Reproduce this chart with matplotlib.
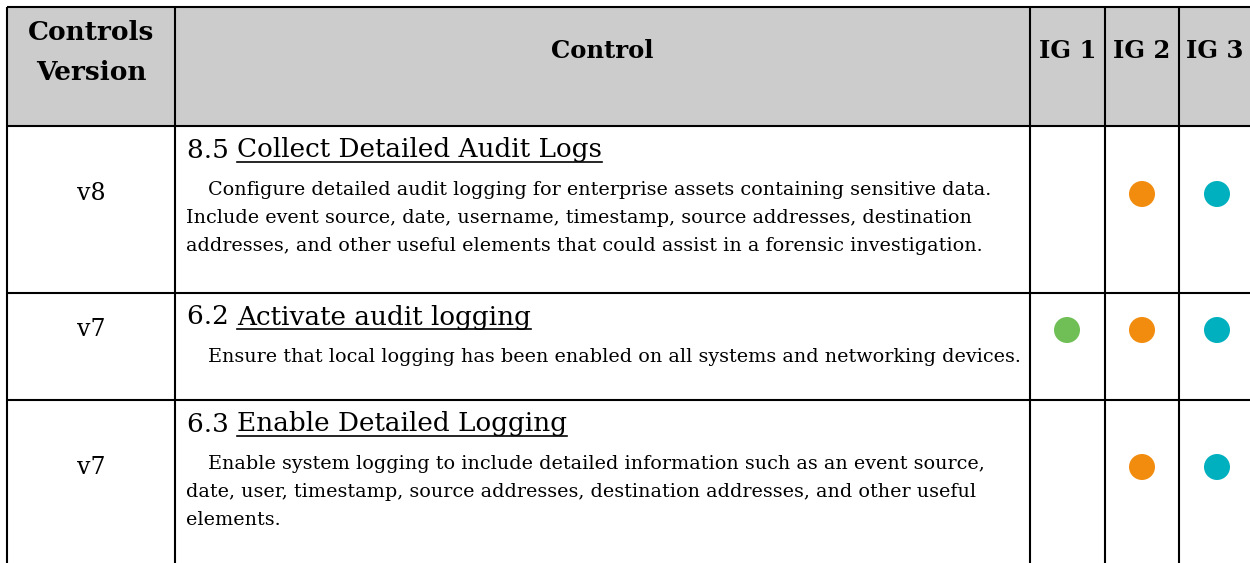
import matplotlib
matplotlib.use("Agg")
import matplotlib.pyplot as plt
from matplotlib.patches import Rectangle, Circle

# table content
headers = ["Controls\nVersion", "Control", "IG 1", "IG 2", "IG 3"]
versions = ["v8", "v7", "v7"]
control_ids = ["8.5", "6.2", "6.3"]
titles = ["Collect Detailed Audit Logs", "Activate audit logging", "Enable Detailed Logging"]
descriptions = [
    ["Configure detailed audit logging for enterprise assets containing sensitive data.",
     "Include event source, date, username, timestamp, source addresses, destination",
     "addresses, and other useful elements that could assist in a forensic investigation."],
    ["Ensure that local logging has been enabled on all systems and networking devices."],
    ["Enable system logging to include detailed information such as an event source,",
     "date, user, timestamp, source addresses, destination addresses, and other useful",
     "elements."],
]
ig1 = [False, True, False]
ig2 = [True, True, True]
ig3 = [True, True, True]

# layout (pixels)
W, H = 1250, 563
col_x = [7, 175, 1030, 1105, 1179, 1260]
row_y = [7, 126, 293, 400, 600]
IG_COLORS = ["#70bf56", "#f28c0f", "#00b0bf"]
FONT = "DejaVu Serif"
LW = 1.5

fig = plt.figure(figsize=(W / 100, H / 100), dpi=100)
ax = fig.add_axes([0, 0, 1, 1])
ax.set_xlim(0, W)
ax.set_ylim(H, 0)
ax.axis("off")

# header band
ax.add_patch(Rectangle((col_x[0], row_y[0]), col_x[-1] - col_x[0], row_y[1] - row_y[0],
                       facecolor="#cccccc", edgecolor="none", zorder=0))

# grid lines
for x in col_x[:-1]:
    ax.plot([x, x], [row_y[0], H + 5], color="black", lw=LW, solid_capstyle="butt")
for y in row_y[:-1]:
    ax.plot([col_x[0], W + 5], [y, y], color="black", lw=LW, solid_capstyle="butt")

# header text
for i, h in enumerate(headers):
    cx = (col_x[i] + col_x[i + 1]) / 2 if i < 4 else (col_x[4] + W) / 2
    ax.text(cx, 52 if i == 0 else 51, h, ha="center", va="center",
            fontsize=19 if i == 0 else 17.5,
            fontweight="bold", family=FONT, linespacing=1.75)

fig.canvas.draw()
renderer = fig.canvas.get_renderer()
inv = ax.transData.inverted()

circle_y = [194, 330, 467]
for r in range(3):
    top = row_y[r + 1]
    ax.text((col_x[0] + col_x[1]) / 2, circle_y[r], versions[r], ha="center",
            va="center", fontsize=17, family=FONT)

    # title with underlined name
    ty = top + 24
    t_id = ax.text(187, ty, control_ids[r] + " ", ha="left", va="center",
                   fontsize=18.9, family=FONT)
    bb = t_id.get_window_extent(renderer)
    x0 = inv.transform((bb.x1, bb.y0))[0]
    t_name = ax.text(x0, ty, titles[r], ha="left", va="center", fontsize=18.9, family=FONT)
    nb = t_name.get_window_extent(renderer)
    (ux0, uy), (ux1, _) = inv.transform([(nb.x0, nb.y0), (nb.x1, nb.y0)])
    ax.plot([ux0, ux1], [uy - 1, uy - 1], color="black", lw=1.2)

    for k, line in enumerate(descriptions[r]):
        ax.text(208 if k == 0 else 186, ty + 40 + 28 * k, line, ha="left",
                va="center", fontsize=13.8, family=FONT)

    for j, flags in enumerate([ig1, ig2, ig3]):
        if flags[r]:
            cx = [1067, 1142, 1217][j]
            ax.add_patch(Circle((cx, circle_y[r]), 13, facecolor=IG_COLORS[j],
                                edgecolor="none", zorder=3))

fig.savefig("out.png", dpi=100)
